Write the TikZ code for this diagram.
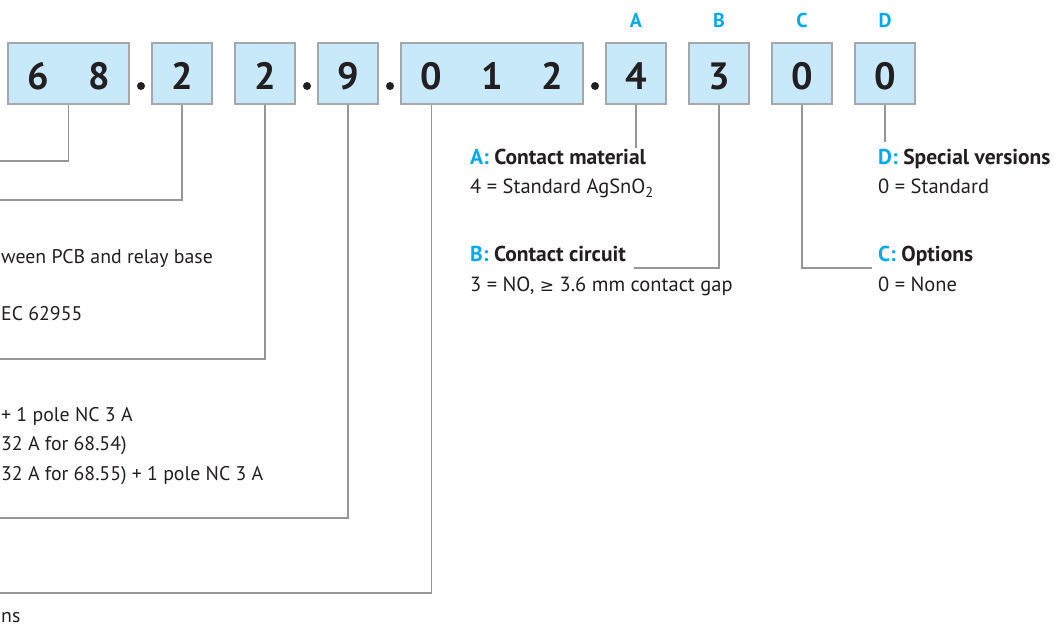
\documentclass[tikz,border=0pt]{standalone}
\usepackage{fontspec}
\setmainfont{PT Sans}
\newfontfamily\symfont{DejaVu Sans}
\definecolor{boxfill}{RGB}{200,233,249}
\definecolor{boxline}{RGB}{165,167,170}
\definecolor{conn}{RGB}{150,150,152}
\definecolor{txt}{RGB}{35,31,32}
\definecolor{letter}{RGB}{0,170,236}
\tikzset{
  codebox/.style={draw=boxline, line width=1.4pt, fill=boxfill, minimum height=61pt, inner sep=0pt},
  digit/.style={inner sep=0pt, anchor=base, text=txt, font=\fontsize{38}{40}\selectfont\bfseries},
  sepdot/.style={circle, fill=txt, inner sep=0pt, minimum size=8pt},
  keyletter/.style={inner sep=0pt, anchor=base, text=letter, font=\fontsize{20}{22}\selectfont\bfseries},
  head/.style={inner sep=0pt, anchor=base west, text=txt, font=\fontsize{21.5}{24}\selectfont\bfseries},
  body/.style={inner sep=0pt, anchor=base west, text=txt, font=\fontsize{20.5}{24}\selectfont},
  cut/.style={inner sep=0pt, anchor=base west, text=txt, font=\fontsize{19.8}{24}\selectfont},
  connector/.style={draw=conn, line width=1.3pt}
}
\begin{document}
\begin{tikzpicture}[x=1pt,y=-1pt]
\useasboundingbox (0,0) rectangle (1056,628);
\clip (0,0) rectangle (1056,628);

% boxes
\node[codebox, minimum width=121pt] (b68) at (68.5,73.5) {};
\node[codebox, minimum width=60pt] (b2a) at (182,73.5) {};
\node[codebox, minimum width=60pt] (b2b) at (265,73.5) {};
\node[codebox, minimum width=60pt] (b9) at (348,73.5) {};
\node[codebox, minimum width=182pt] (b012) at (492,73.5) {};
\node[codebox, minimum width=60pt] (b4) at (636,73.5) {};
\node[codebox, minimum width=60pt] (b3) at (719,73.5) {};
\node[codebox, minimum width=60pt] (bC) at (802,73.5) {};
\node[codebox, minimum width=60pt] (bD) at (885,73.5) {};

% digits
\node[digit] (d6) at (38.5,90) {6};
\node[digit] (d8) at (99,90) {8};
\node[digit] (d2a) at (182,90) {2};
\node[digit] (d2b) at (265,90) {2};
\node[digit] (d9) at (348,90) {9};
\node[digit] (d0) at (431.5,90) {0};
\node[digit] (d1) at (492,90) {1};
\node[digit] (d2c) at (552.5,90) {2};
\node[digit] (d4) at (636,90) {4};
\node[digit] (d3) at (719,90) {3};
\node[digit] (d0c) at (802,90) {0};
\node[digit] (d0d) at (885,90) {0};

% separator dots
\node[sepdot] (p1) at (141,86) {};
\node[sepdot] (p2) at (307,86) {};
\node[sepdot] (p3) at (390,86) {};
\node[sepdot] (p4) at (595,86) {};

% key letters
\node[keyletter] (kA) at (636,28) {A};
\node[keyletter] (kB) at (719,28) {B};
\node[keyletter] (kC) at (802,28) {C};
\node[keyletter] (kD) at (885,28) {D};

% right-hand descriptions
\node[head] (hA) at (470,165) {\textcolor{letter}{A:} Contact material};
\node[body] (tA) at (470,194) {4 = Standard AgSnO\textsubscript{2}};
\node[head] (hB) at (470,261) {\textcolor{letter}{B:} Contact circuit};
\node[body] (tB) at (470,291) {3 = NO, {\symfont\fontsize{17}{20}\selectfont ≥} 3.6 mm contact gap};
\node[head] (hD) at (878,165) {\textcolor{letter}{D:} Special versions};
\node[body] (tD) at (878,194) {0 = Standard};
\node[head] (hC) at (878,261) {\textcolor{letter}{C:} Options};
\node[body] (tC) at (878,291) {0 = None};

% left-hand descriptions (cut off by the picture's edge)
\node[cut] (l1) at (1,263) {ween PCB and relay base};
\node[cut] (l2) at (1,320) {EC 62955};
\node[cut] (l3) at (1,421) {+ 1 pole NC 3 A};
\node[cut] (l4) at (1,450) {32 A for 68.54)};
\node[cut] (l5) at (1,480) {32 A for 68.55) + 1 pole NC 3 A};
\node[cut] (l6) at (1,622) {ns};

% free ends at the left edge
\coordinate (e68) at (0,161);
\coordinate (e2a) at (0,200);
\coordinate (e2b) at (0,359);
\coordinate (e9) at (0,518);
\coordinate (e012) at (0,593);

% connectors
\draw[connector] (b68.south) |- (e68);
\draw[connector] (b2a.south) |- (e2a);
\draw[connector] (b2b.south) |- (e2b);
\draw[connector] (b9.south) |- (e9);
\draw[connector] (d0 |- b012.south) |- (e012);
\draw[connector] (b4.south) -- (b4.south |- 0,148);
\draw[connector] (b3.south) |- ([xshift=8pt,yshift=-7pt]hB.base east);
\draw[connector] (bC.south) |- ([xshift=-6pt,yshift=-7pt]hC.base west);
\draw[connector] (bD.south) -- (bD.south |- 0,142);
\end{tikzpicture}
\end{document}
